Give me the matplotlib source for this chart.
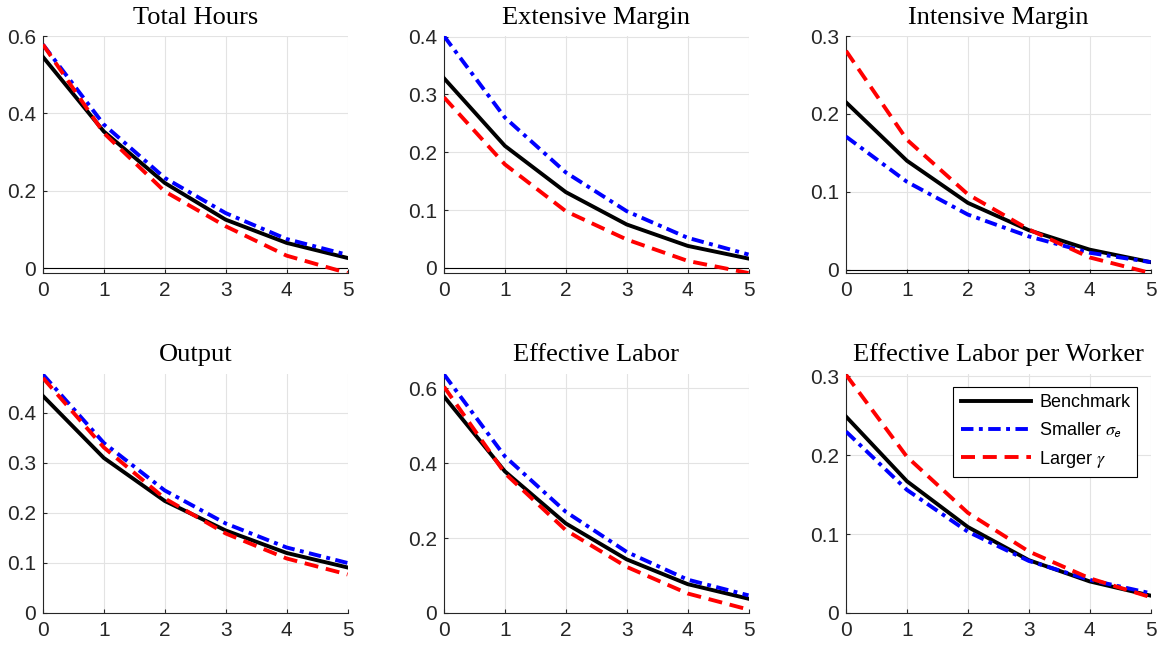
import matplotlib
matplotlib.use("Agg")
import matplotlib.pyplot as plt
from matplotlib.ticker import FuncFormatter

# horizon (years)
periods = [0, 1, 2, 3, 4, 5]

titles = ["Total Hours", "Extensive Margin", "Intensive Margin",
          "Output", "Effective Labor", "Effective Labor per Worker"]

benchmark = [
    [0.546, 0.353, 0.220, 0.125, 0.065, 0.026],
    [0.328, 0.211, 0.131, 0.075, 0.038, 0.016],
    [0.215, 0.140, 0.086, 0.051, 0.026, 0.010],
    [0.434, 0.310, 0.224, 0.165, 0.120, 0.091],
    [0.578, 0.378, 0.239, 0.143, 0.077, 0.038],
    [0.249, 0.167, 0.109, 0.067, 0.040, 0.022],
]
smaller_sigma = [
    [0.578, 0.371, 0.233, 0.142, 0.075, 0.034],
    [0.401, 0.260, 0.165, 0.098, 0.052, 0.023],
    [0.171, 0.113, 0.071, 0.043, 0.022, 0.010],
    [0.477, 0.340, 0.245, 0.179, 0.131, 0.100],
    [0.637, 0.418, 0.270, 0.163, 0.089, 0.047],
    [0.230, 0.156, 0.103, 0.066, 0.042, 0.025],
]
larger_gamma = [
    [0.578, 0.349, 0.198, 0.108, 0.032, -0.013],
    [0.295, 0.179, 0.098, 0.049, 0.012, -0.009],
    [0.281, 0.167, 0.097, 0.052, 0.016, -0.004],
    [0.470, 0.331, 0.229, 0.159, 0.109, 0.077],
    [0.604, 0.373, 0.221, 0.123, 0.052, 0.009],
    [0.302, 0.198, 0.127, 0.078, 0.044, 0.020],
]

labels = ["Benchmark", r"Smaller $\sigma_{\mathsf{e}}$", r"Larger $\gamma$"]

ylims = [(-0.013, 0.6), (-0.009, 0.401), (-0.004, 0.3),
         (0, 0.478), (0, 0.638), (0, 0.303)]
yticks = [[0, 0.2, 0.4, 0.6], [0, 0.1, 0.2, 0.3, 0.4], [0, 0.1, 0.2, 0.3],
          [0, 0.1, 0.2, 0.3, 0.4], [0, 0.2, 0.4, 0.6], [0, 0.1, 0.2, 0.3]]

plt.rcParams['font.family'] = ['Liberation Sans', 'DejaVu Sans']
plt.rcParams['mathtext.fontset'] = 'stix'

fig = plt.figure(figsize=(11.58, 6.47), dpi=100)

lefts = [0.0371, 0.3834, 0.7306]
width = 0.2630
bottoms = [0.578, 0.0526]
heights = [0.3663, 0.3694]

fmt = FuncFormatter(lambda v, p: '%g' % round(v, 3))
ink = '#262626'

for i in range(6):
    r, c = divmod(i, 3)
    ax = fig.add_axes([lefts[c], bottoms[r], width, heights[r]])
    ax.grid(True, color='#e3e3e3', linewidth=0.8, zorder=0)
    ax.set_axisbelow(True)
    if r == 0:
        ax.axhline(0, color='black', linewidth=0.8, zorder=1)
    l1, = ax.plot(periods, benchmark[i], color='black', linewidth=2.8,
                  solid_joinstyle='miter', zorder=3)
    l2, = ax.plot(periods, smaller_sigma[i], color='#0000ff', linewidth=2.8,
                  linestyle=(0, (3.2, 1.4, 1.0, 1.4)), zorder=3)
    l3, = ax.plot(periods, larger_gamma[i], color='#ff0000', linewidth=2.8,
                  linestyle=(0, (3.6, 2.0)), zorder=3)
    ax.set_xlim(0, 5)
    ax.set_ylim(*ylims[i])
    ax.set_xticks(periods)
    ax.set_yticks(yticks[i])
    ax.yaxis.set_major_formatter(fmt)
    ax.tick_params(direction='in', length=3, width=0.8, labelsize=15,
                   colors=ink)
    ax.tick_params(axis='x', pad=6)
    ax.tick_params(axis='y', pad=5)
    for s in ['top', 'right']:
        ax.spines[s].set_visible(False)
    for s in ['left', 'bottom']:
        ax.spines[s].set_color(ink)
        ax.spines[s].set_linewidth(0.8)
    ax.set_title(titles[i], fontsize=19, family=['Liberation Serif', 'DejaVu Serif'],
                 pad=9)
    if i == 5:
        leg = ax.legend([l1, l2, l3], labels, loc='upper right', fontsize=13,
                        fancybox=False, framealpha=1, edgecolor='black',
                        handlelength=3.9, handletextpad=0.45, labelspacing=0.5,
                        borderpad=0.4, borderaxespad=0,
                        bbox_to_anchor=(0.957, 0.946))
        leg.get_frame().set_linewidth(0.8)

fig.savefig('out.png', dpi=100)
